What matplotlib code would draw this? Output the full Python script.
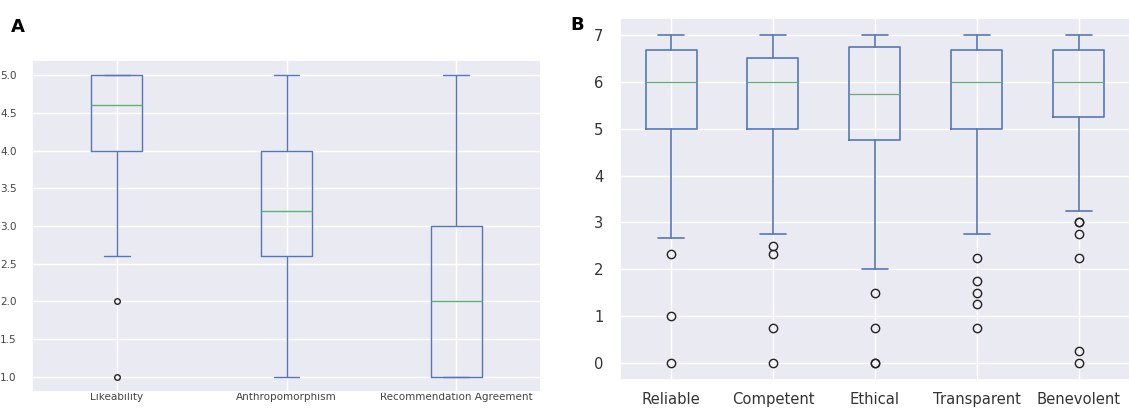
import numpy as np
import matplotlib
matplotlib.use("Agg")
import matplotlib.pyplot as plt
import seaborn as sns

# ---------------------------
# Data
# ---------------------------
a_labels = ["Likeability", "Anthropomorphism", "Recommendation Agreement"]
a_q1 = [4.0, 2.6, 1.0]
a_med = [4.6, 3.2, 2.0]
a_q3 = [5.0, 4.0, 3.0]
a_lo = [2.6, 1.0, 1.0]
a_hi = [5.0, 5.0, 5.0]
a_fliers = [[2.0, 1.0], [], []]

b_labels = ["Reliable", "Competent", "Ethical", "Transparent", "Benevolent"]
b_q1 = [5.0, 5.0, 4.75, 5.0, 5.25]
b_med = [6.0, 6.0, 5.75, 6.0, 6.0]
b_q3 = [6.67, 6.5, 6.75, 6.67, 6.67]
b_lo = [2.67, 2.75, 2.0, 2.75, 3.25]
b_hi = [7.0, 7.0, 7.0, 7.0, 7.0]
b_fliers = [
    [2.33, 1.0, 0.0],
    [2.5, 2.33, 0.75, 0.0],
    [1.5, 0.75, 0.0, 0.0],
    [2.25, 1.75, 1.5, 1.25, 0.75],
    [3.0, 3.0, 2.75, 2.25, 0.25, 0.0],
]


def make_stats(labels, q1, med, q3, lo, hi, fliers):
    return [
        dict(label=l, q1=a, med=m, q3=b, whislo=w1, whishi=w2, fliers=f)
        for l, a, m, b, w1, w2, f in zip(labels, q1, med, q3, lo, hi, fliers)
    ]


sns.set_theme(style="darkgrid")
plt.rcParams["font.family"] = ["DejaVu Sans"]

BLUE = "#5577B8"
GREEN = "#5DB077"

fig = plt.figure(figsize=(11.29, 4.11), dpi=100)

# ---------------------------
# Panel A
# ---------------------------
axA = fig.add_axes([32 / 1129, 1 - 392 / 411, 509 / 1129, 332 / 411])
lwA = 1.0
axA.bxp(
    make_stats(a_labels, a_q1, a_med, a_q3, a_lo, a_hi, a_fliers),
    widths=0.3,
    boxprops=dict(color=BLUE, linewidth=lwA),
    whiskerprops=dict(color=BLUE, linewidth=lwA),
    capprops=dict(color=BLUE, linewidth=lwA),
    medianprops=dict(color=GREEN, linewidth=lwA),
    flierprops=dict(marker="o", markerfacecolor="none", markeredgecolor="#222222",
                    markersize=4, markeredgewidth=1.0),
)
axA.set_ylim(0.8, 5.2)
axA.set_yticks(np.arange(1.0, 5.01, 0.5))
axA.set_xlim(0.5, 3.5)
axA.tick_params(axis="y", labelsize=7.5, colors="#444444", pad=5)
axA.tick_params(axis="x", labelsize=7.5, colors="#444444", pad=0, length=0)

# ---------------------------
# Panel B
# ---------------------------
axB = fig.add_axes([620 / 1129, 1 - 379.5 / 411, 510 / 1129, 361 / 411])
lwB = 1.2
axB.bxp(
    make_stats(b_labels, b_q1, b_med, b_q3, b_lo, b_hi, b_fliers),
    widths=0.5,
    boxprops=dict(color=BLUE, linewidth=lwB),
    whiskerprops=dict(color=BLUE, linewidth=lwB),
    capprops=dict(color=BLUE, linewidth=lwB),
    medianprops=dict(color=GREEN, linewidth=0.9),
    flierprops=dict(marker="o", markerfacecolor="none", markeredgecolor="#222222",
                    markersize=6, markeredgewidth=1.0),
)
axB.set_ylim(-0.35, 7.35)
axB.set_yticks(range(0, 8))
axB.set_xlim(0.5, 5.5)
axB.tick_params(axis="y", labelsize=10.6, colors="#333333", pad=6)
axB.tick_params(axis="x", labelsize=10.6, colors="#333333", pad=3)

fig.text(11 / 1129, 1 - 32 / 411, "A", fontsize=13, fontweight="bold", color="black")
fig.text(570 / 1129, 1 - 30 / 411, "B", fontsize=13, fontweight="bold", color="black")

fig.savefig("out.png", dpi=100)
